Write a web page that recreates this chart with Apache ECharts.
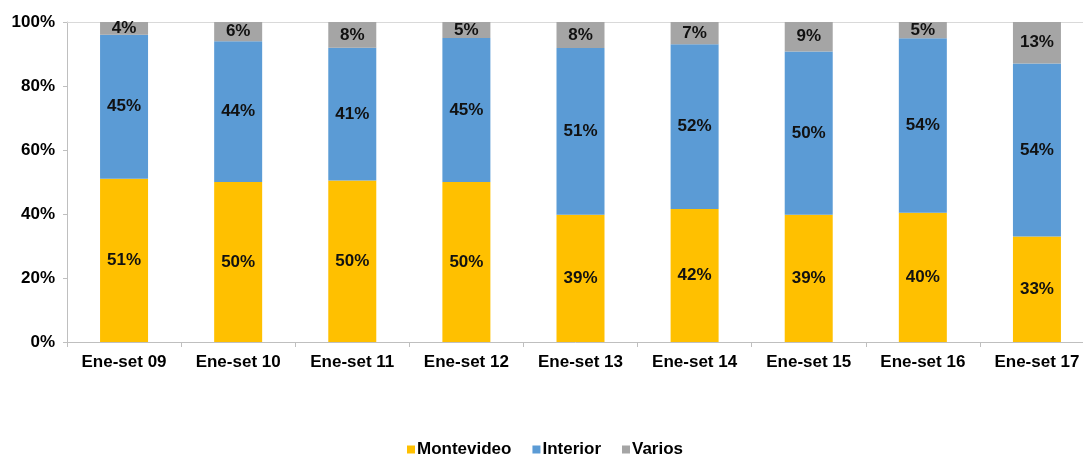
<!DOCTYPE html>
<html>
<head>
<meta charset="utf-8">
<script src="https://cdn.jsdelivr.net/npm/echarts@6/dist/echarts.min.js"></script>
<style>
  html, body { margin: 0; padding: 0; background: #fff; }
  #chart { width: 1083px; height: 456px; }
</style>
</head>
<body>
<div id="chart"></div>
<script>
  // periodos
  var categories = ['Ene-set 09', 'Ene-set 10', 'Ene-set 11', 'Ene-set 12', 'Ene-set 13',
                    'Ene-set 14', 'Ene-set 15', 'Ene-set 16', 'Ene-set 17'];
  // participación (%) tal como aparece en las etiquetas
  var montevideo = [51, 50, 50, 50, 39, 42, 39, 40, 33];
  var interior   = [45, 44, 41, 45, 51, 52, 50, 54, 54];
  var varios     = [4, 6, 8, 5, 8, 7, 9, 5, 13];
  var yTicks = [0, 20, 40, 60, 80, 100];

  var font = '"Liberation Sans", Arial, sans-serif';

  // las barras llegan siempre al 100%, normalizamos por el total de cada periodo
  function share(arr) {
    return arr.map(function (v, i) {
      var total = montevideo[i] + interior[i] + varios[i];
      return { value: v / total * 100, raw: v };
    });
  }

  function serie(name, arr, color) {
    return {
      name: name,
      type: 'bar',
      stack: 'total',
      barWidth: 48,
      itemStyle: { color: color },
      label: {
        show: true,
        position: 'inside',
        color: '#111',
        fontFamily: font,
        fontWeight: 'bold',
        fontSize: 17,
        formatter: function (p) { return p.data.raw + '%'; }
      },
      data: share(arr)
    };
  }

  var chart = echarts.init(document.getElementById('chart'));
  chart.setOption({
    animation: false,
    // el área del gráfico sigue más allá del borde derecho (imagen recortada)
    grid: { left: 67, width: 1027, top: 22, bottom: 114, outerBoundsMode: 'none' },
    legend: {
      top: 436,
      left: 402,
      itemWidth: 8,
      itemHeight: 8,
      itemGap: 21,
      icon: 'rect',
      textStyle: { fontFamily: font, fontWeight: 'bold', fontSize: 17, color: '#000', padding: [0, 0, 0, -3] },
      data: ['Montevideo', 'Interior', 'Varios']
    },
    xAxis: [
      {
        type: 'category',
        data: categories,
        axisLine: { lineStyle: { color: '#bfbfbf' } },
        axisTick: { show: true, length: 5, lineStyle: { color: '#bfbfbf' } },
        axisLabel: { color: '#000', fontFamily: font, fontWeight: 'bold', fontSize: 17, margin: 12 }
      },
      {
        type: 'category',
        position: 'top',
        data: categories,
        axisLine: { lineStyle: { color: '#d9d9d9' } },
        axisTick: { show: false },
        axisLabel: { show: false }
      }
    ],
    yAxis: {
      type: 'value',
      min: yTicks[0],
      max: yTicks[yTicks.length - 1],
      interval: 20,
      axisLine: { show: true, lineStyle: { color: '#bfbfbf' } },
      axisTick: { show: true, length: 4, lineStyle: { color: '#bfbfbf' } },
      splitLine: { show: false },
      axisLabel: {
        color: '#000', fontFamily: font, fontWeight: 'bold', fontSize: 17, margin: 12,
        formatter: '{value}%'
      }
    },
    series: [
      serie('Montevideo', montevideo, '#FFC000'),
      serie('Interior', interior, '#5B9BD5'),
      serie('Varios', varios, '#A5A5A5')
    ]
  });
</script>
</body>
</html>
